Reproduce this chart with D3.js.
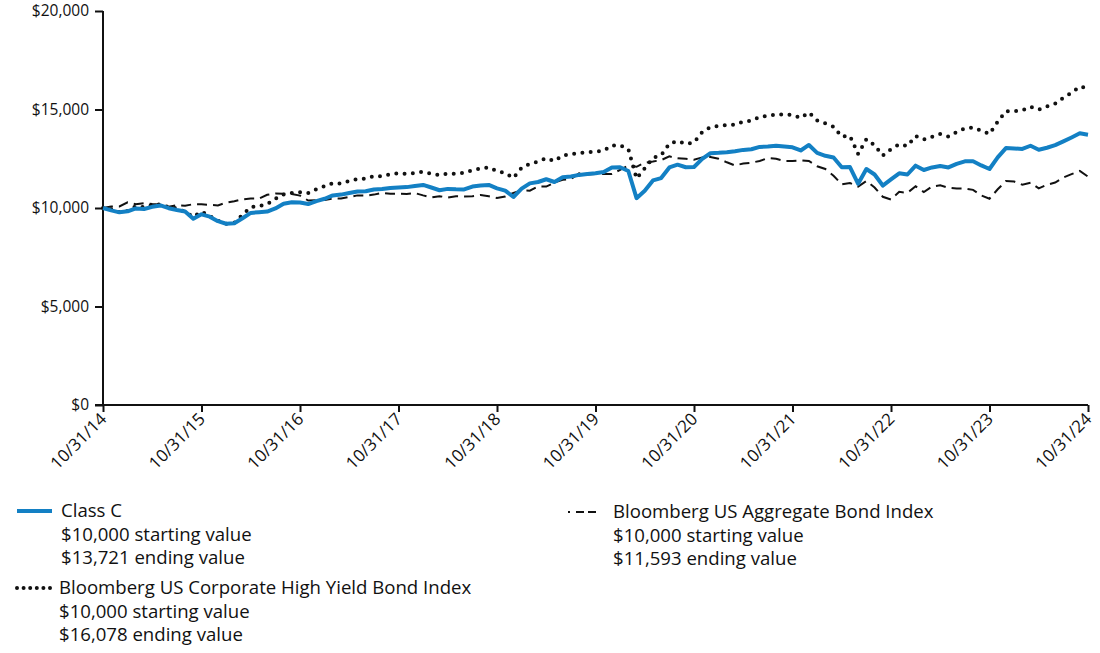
<!DOCTYPE html>
<html>
<head>
<meta charset="utf-8">
<script src="https://cdn.jsdelivr.net/npm/d3@7"></script>
<style>
  body { margin: 0; background: #fff; font-family: "Open Sans", "Noto Sans", sans-serif; }
  .axis text { font-size: 15.5px; fill: #111; font-family: "Open Sans", sans-serif; }
  .axis path, .axis line { stroke: #111; stroke-width: 2; }
  .legend text { font-size: 18.6px; fill: #111; }
</style>
</head>
<body>
<div id="chart"></div>
<script>
// tick labels on the x axis (one per year, every 12 months)
var tickLabels = ["10/31/14", "10/31/15", "10/31/16", "10/31/17", "10/31/18", "10/31/19",
    "10/31/20", "10/31/21", "10/31/22", "10/31/23", "10/31/24"];
var yTicks = [0, 5000, 10000, 15000, 20000];

// monthly values, 10/31/14 .. 10/31/24
var classC = [10000, 9880, 9780, 9830, 9980, 9950, 10060, 10130, 9990, 9900, 9820, 9450,
    9680, 9560, 9330, 9200, 9230, 9480, 9750, 9790, 9820, 9980, 10220, 10290,
    10280, 10200, 10350, 10470, 10640, 10680, 10760, 10840, 10850, 10940, 10960, 11020,
    11040, 11060, 11120, 11170, 11040, 10900, 10970, 10950, 10940, 11090, 11140, 11170,
    11000, 10880, 10560, 10980, 11250, 11320, 11460, 11320, 11560, 11600, 11680, 11730,
    11760, 11830, 12060, 12070, 11880, 10500, 10880, 11400, 11520, 12060, 12200, 12070,
    12080, 12490, 12780, 12800, 12830, 12880, 12950, 12980, 13100, 13120, 13160, 13120,
    13080, 12920, 13200, 12800, 12650, 12560, 12070, 12080, 11230, 11980, 11700, 11140,
    11450, 11760, 11700, 12150, 11930, 12060, 12130, 12060, 12240, 12370, 12370, 12160,
    11980, 12570, 13040, 13020, 13000, 13160, 12960, 13060, 13190, 13380, 13580, 13790,
    13721];

var highYield = [10000, 9932, 9789, 9854, 10094, 10042, 10157, 10189, 10044, 9986, 9811, 9559,
    9817, 9598, 9353, 9202, 9248, 9659, 10037, 10101, 10194, 10470, 10689, 10760,
    10802, 10753, 10952, 11105, 11267, 11242, 11372, 11471, 11487, 11612, 11612, 11717,
    11766, 11735, 11770, 11841, 11740, 11670, 11746, 11742, 11786, 11914, 12002, 12069,
    11876, 11774, 11522, 12043, 12243, 12358, 12533, 12384, 12666, 12737, 12788, 12833,
    12869, 12909, 13171, 13175, 12989, 11499, 12018, 12548, 12671, 13265, 13392, 13254,
    13322, 13849, 14109, 14156, 14208, 14229, 14384, 14429, 14622, 14678, 14753, 14751,
    14725, 14573, 14846, 14441, 14292, 14128, 13625, 13659, 12740, 13492, 13182, 12659,
    12988, 13231, 13149, 13650, 13474, 13618, 13754, 13627, 13855, 14046, 14085, 13919,
    13757, 14380, 14916, 14916, 14959, 15136, 14994, 15159, 15301, 15598, 15852, 16160,
    16078];

var aggregate = [10000, 10070, 10080, 10290, 10190, 10240, 10200, 10180, 10070, 10140, 10120, 10190,
    10190, 10160, 10130, 10270, 10340, 10440, 10480, 10480, 10670, 10730, 10720, 10710,
    10630, 10380, 10390, 10410, 10480, 10480, 10560, 10640, 10630, 10680, 10770, 10720,
    10730, 10710, 10760, 10640, 10540, 10600, 10530, 10600, 10590, 10600, 10660, 10600,
    10510, 10580, 10770, 10890, 10880, 11090, 11090, 11290, 11430, 11460, 11760, 11700,
    11730, 11730, 11720, 11940, 12160, 12090, 12300, 12360, 12430, 12620, 12520, 12500,
    12450, 12570, 12590, 12500, 12320, 12160, 12260, 12300, 12390, 12530, 12500, 12390,
    12390, 12420, 12390, 12120, 11980, 11640, 11200, 11270, 11090, 11370, 11040, 10570,
    10430, 10820, 10770, 11100, 10810, 11090, 11150, 11030, 10990, 10990, 10920, 10640,
    10470, 10950, 11370, 11340, 11180, 11280, 11000, 11180, 11290, 11550, 11720, 11880,
    11593];

var margin = {top: 11, right: 12, bottom: 248, left: 103},
    width = 1100 - margin.left - margin.right,
    height = 653 - margin.top - margin.bottom;

var svg = d3.select("#chart")
    .append("svg")
    .attr("width", 1100)
    .attr("height", 653);

var g = svg.append("g")
    .attr("transform", "translate(" + margin.left + "," + margin.top + ")");

var x = d3.scaleLinear()
    .domain([0, classC.length - 1])
    .range([0, width]);

var y = d3.scaleLinear()
    .domain([0, 20000])
    .range([height, 0]);

// Y axis
g.append("g")
    .attr("class", "axis")
    .call(d3.axisLeft(y).tickValues(yTicks).tickSize(8).tickPadding(6)
        .tickFormat(function(d) { return "$" + d3.format(",")(d); }))
    .call(function(a) { a.select(".domain").attr("d", "M0," + height + "V0"); });

// X axis
var xAxis = g.append("g")
    .attr("class", "axis")
    .attr("transform", "translate(0," + height + ")")
    .call(d3.axisBottom(x).tickValues(d3.range(0, classC.length, 12)).tickSize(7)
        .tickFormat(function(d, i) { return tickLabels[i]; }))
    .call(function(a) { a.select(".domain").attr("d", "M-8,0H" + width); });

xAxis.selectAll("text")
    .attr("text-anchor", "end")
    .attr("dy", null)
    .style("font-size", "17px")
    .attr("transform", "translate(-3,8) rotate(-45)");

// lines
var line = d3.line()
    .x(function(d, i) { return x(i); })
    .y(function(d) { return y(d); });

g.append("path")
    .datum(aggregate)
    .attr("fill", "none")
    .attr("stroke", "#111")
    .attr("stroke-width", 2)
    .attr("stroke-dasharray", "10,6")
    .attr("d", line);

g.append("path")
    .datum(highYield)
    .attr("fill", "none")
    .attr("stroke", "#111")
    .attr("stroke-width", 4)
    .attr("stroke-linecap", "round")
    .attr("stroke-dasharray", "0,8.3")
    .attr("d", line);

g.append("path")
    .datum(classC)
    .attr("fill", "none")
    .attr("stroke", "#1380c4")
    .attr("stroke-width", 4)
    .attr("stroke-linejoin", "round")
    .attr("d", line);

// legend
var legendItems = [
    {name: "Class C", start: "$10,000 starting value", end: "$13,721 ending value", x: 17, y: 511, type: "solid"},
    {name: "Bloomberg US Aggregate Bond Index", start: "$10,000 starting value", end: "$11,593 ending value", x: 568, y: 512, type: "dash"},
    {name: "Bloomberg US Corporate High Yield Bond Index", start: "$10,000 starting value", end: "$16,078 ending value", x: 15, y: 588, type: "dot"}
];

var lg = svg.append("g").attr("class", "legend");
legendItems.forEach(function(d) {
    var s = lg.append("line")
        .attr("x1", d.x).attr("x2", d.x + 35)
        .attr("y1", d.y).attr("y2", d.y)
        .attr("fill", "none");
    if (d.type == "solid") {
        s.attr("stroke", "#1380c4").attr("stroke-width", 4);
    } else if (d.type == "dash") {
        s.attr("x1", d.x).attr("x2", d.x + 32)
         .attr("stroke", "#111").attr("stroke-width", 2).attr("stroke-dasharray", "2,6,8,4,8,4");
    } else {
        s.attr("x1", d.x + 2).attr("x2", d.x + 35)
         .attr("stroke", "#111").attr("stroke-width", 4).attr("stroke-linecap", "round")
         .attr("stroke-dasharray", "0,6.6");
    }
    var tx = d.x + (d.type == "dash" ? 45 : 44);
    [d.name, d.start, d.end].forEach(function(t, i) {
        lg.append("text")
            .attr("x", tx)
            .attr("y", d.y + 6 + i * 23.5)
            .text(t);
    });
});
</script>
</body>
</html>
